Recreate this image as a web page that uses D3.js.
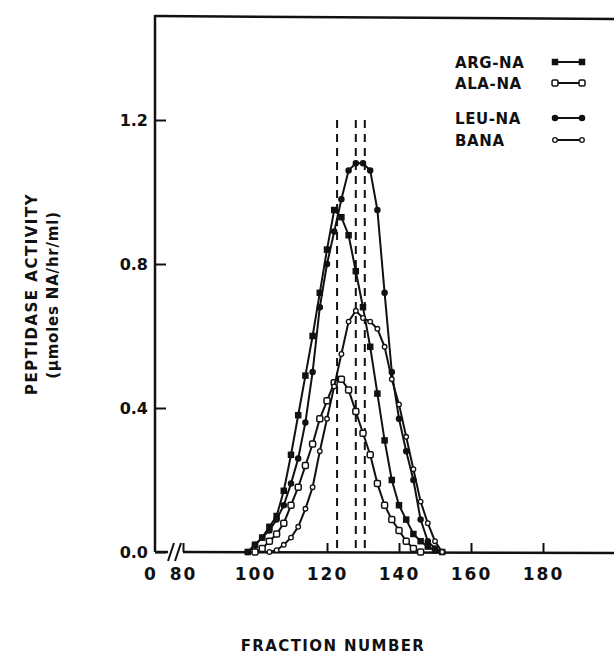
<!DOCTYPE html>
<html>
<head>
<meta charset="utf-8">
<script src="https://cdn.jsdelivr.net/npm/d3@7"></script>
<style>
  body { margin: 0; background: #fff; }
  svg text { font-family: "DejaVu Sans", sans-serif; fill: #111; }
</style>
</head>
<body>
<svg id="chart" width="614" height="659"></svg>
<script>
// Fraction numbers sampled (every 2nd fraction)
const fractions = [96,98,100,102,104,106,108,110,112,114,116,118,120,122,124,126,128,130,132,134,136,138,140,142,144,146,148,150,152];

// Activity values (null = not plotted)
const argNA  = [null,0.00,0.02,0.04,0.07,0.10,0.17,0.27,0.38,0.49,0.60,0.72,0.84,0.95,0.93,0.88,0.78,0.68,0.57,0.44,0.31,0.20,0.13,0.09,0.05,0.03,0.015,0.005,0.00];
const alaNA  = [null,null,0.00,0.01,0.03,0.05,0.08,0.13,0.18,0.24,0.30,0.37,0.42,0.47,0.48,0.45,0.39,0.33,0.27,0.19,0.13,0.09,0.06,0.03,0.01,0.00,null,null,null];
const leuNA  = [null,0.00,0.02,0.04,0.06,0.09,0.13,0.19,0.26,0.36,0.50,0.68,0.80,0.89,0.98,1.06,1.08,1.08,1.06,0.95,0.72,0.50,0.37,0.28,0.20,0.09,0.03,0.01,0.00];
const bana   = [null,null,null,null,0.00,0.005,0.02,0.04,0.07,0.12,0.18,0.28,0.37,0.46,0.55,0.64,0.67,0.65,0.64,0.62,0.57,0.48,0.41,0.32,0.23,0.14,0.08,0.03,0.00];

// peak markers (dashed vertical lines)
const peakFractions = [122.8, 128.0, 130.5];

const xTicks = [80,100,120,140,160,180];
const yTicks = [0,0.4,0.8,1.2];
const seriesNames = ["ARG-NA","ALA-NA","LEU-NA","BANA"];

const svg = d3.select("#chart");
const x = d3.scaleLinear().domain([80,180]).range([183,543]);
const y = d3.scaleLinear().domain([0,1.2]).range([552,120]);
const x0 = 155, yTop = 16, xRight = 614;

// frame: left axis, top border, broken bottom axis
svg.append("line").attr("x1",x0).attr("y1",yTop-1).attr("x2",x0).attr("y2",y(0))
  .attr("stroke","#111").attr("stroke-width",2.5);
svg.append("line").attr("x1",x0).attr("y1",yTop).attr("x2",xRight).attr("y2",yTop+3)
  .attr("stroke","#111").attr("stroke-width",2.5);
svg.append("line").attr("x1",x0).attr("y1",y(0)).attr("x2",168).attr("y2",y(0))
  .attr("stroke","#111").attr("stroke-width",2.5);
svg.append("line").attr("x1",x(80)).attr("y1",y(0)).attr("x2",xRight).attr("y2",y(0)+1)
  .attr("stroke","#111").attr("stroke-width",2.5);
// axis break "//"
[171,178].forEach(bx => {
  svg.append("line").attr("x1",bx-3).attr("y1",y(0)+9).attr("x2",bx+3).attr("y2",y(0)-9)
    .attr("stroke","#111").attr("stroke-width",2);
});

// x axis
const xAxis = svg.append("g").attr("transform",`translate(0,${y(0)})`)
  .call(d3.axisBottom(x).tickValues(xTicks).tickSizeInner(-9).tickSizeOuter(0).tickPadding(16));
xAxis.select(".domain").remove();
xAxis.selectAll(".tick line").attr("stroke","#111").attr("stroke-width",2);
xAxis.selectAll(".tick text").attr("font-size",17).attr("font-weight","bold")
  .attr("letter-spacing",2).attr("fill","#111");
svg.append("text").attr("x",150).attr("y",y(0)+28).attr("text-anchor","middle")
  .attr("font-size",17).attr("font-weight","bold").text("0");

// y axis
const yAxis = svg.append("g").attr("transform",`translate(${x0},0)`)
  .call(d3.axisLeft(y).tickValues(yTicks).tickSizeInner(-11).tickSizeOuter(0).tickPadding(7)
    .tickFormat(d3.format(".1f")));
yAxis.select(".domain").remove();
yAxis.selectAll(".tick line").attr("stroke","#111").attr("stroke-width",2);
yAxis.selectAll(".tick text").attr("font-size",16).attr("font-weight","bold").attr("fill","#111");

// axis titles
svg.append("text").attr("transform","translate(37,294) rotate(-90)").attr("text-anchor","middle")
  .attr("font-size",15).attr("font-weight","bold").attr("letter-spacing",1.5).text("PEPTIDASE ACTIVITY");
svg.append("text").attr("transform","translate(58,295) rotate(-90)").attr("text-anchor","middle")
  .attr("font-size",15).attr("font-weight","bold").attr("letter-spacing",0.8).text("(\u00b5moles NA/hr/ml)");
svg.append("text").attr("x",333).attr("y",651).attr("text-anchor","middle")
  .attr("font-size",15).attr("font-weight","bold").attr("letter-spacing",1.4).text("FRACTION NUMBER");

// dashed peak lines
svg.selectAll(".peak").data(peakFractions).join("line")
  .attr("class","peak")
  .attr("x1",d=>x(d)).attr("x2",d=>x(d)).attr("y1",y(1.2)).attr("y2",y(0))
  .attr("stroke","#111").attr("stroke-width",2).attr("stroke-dasharray","8,6");

// series
const series = [
  {name:"ARG-NA", values:argNA, marker:"square", fill:"#111", size:5},
  {name:"ALA-NA", values:alaNA, marker:"square", fill:"#fff", size:6},
  {name:"LEU-NA", values:leuNA, marker:"circle", fill:"#111", size:2.6},
  {name:"BANA",   values:bana,  marker:"circle", fill:"#fff", size:2.3}
];

const line = d3.line().defined(d=>d.v!==null).x(d=>x(d.f)).y(d=>y(d.v));

function drawMarker(g, m, cx, cy){
  if(m.marker==="square"){
    g.append("rect").attr("x",cx-m.size/2).attr("y",cy-m.size/2)
      .attr("width",m.size).attr("height",m.size).attr("rx",m.fill==="#fff"?1.5:0)
      .attr("fill",m.fill).attr("stroke","#111").attr("stroke-width",1.5);
  } else {
    g.append("circle").attr("cx",cx).attr("cy",cy).attr("r",m.size)
      .attr("fill",m.fill).attr("stroke","#111").attr("stroke-width",1.3);
  }
}

series.forEach(s=>{
  const pts = fractions.map((f,i)=>({f, v:s.values[i]}));
  svg.append("path").datum(pts).attr("d",line)
    .attr("fill","none").attr("stroke","#111").attr("stroke-width",2);
  const g = svg.append("g");
  pts.filter(p=>p.v!==null).forEach(p=>drawMarker(g, s, x(p.f), y(p.v)));
});

// legend
const legendY = [62, 83, 118, 140];
series.forEach((s,i)=>{
  svg.append("text").attr("x",455).attr("y",legendY[i]+6)
    .attr("font-size",15).attr("font-weight","bold").attr("letter-spacing",0.6).text(seriesNames[i]);
  svg.append("line").attr("x1",555).attr("x2",582).attr("y1",legendY[i]).attr("y2",legendY[i])
    .attr("stroke","#111").attr("stroke-width",2);
  const g = svg.append("g");
  drawMarker(g, s, 555, legendY[i]);
  drawMarker(g, s, 582, legendY[i]);
});
</script>
</body>
</html>
